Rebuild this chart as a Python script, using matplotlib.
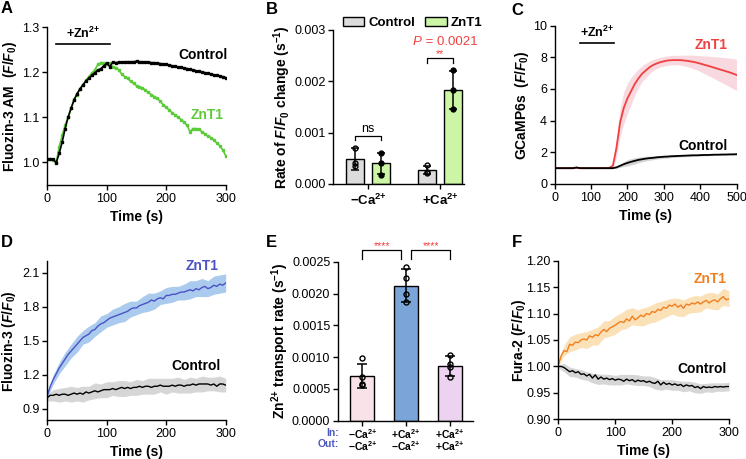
import numpy as np
import matplotlib
matplotlib.use('Agg')
import matplotlib.pyplot as plt
from matplotlib.patches import Patch

plt.rcParams['font.family'] = ['Liberation Sans', 'DejaVu Sans']
plt.rcParams['mathtext.fontset'] = 'custom'
plt.rcParams['mathtext.rm'] = 'Liberation Sans:bold'
plt.rcParams['mathtext.it'] = 'Liberation Sans:bold:italic'
plt.rcParams['mathtext.bf'] = 'Liberation Sans:bold'
plt.rcParams['axes.linewidth'] = 1.0

# ---------------- Panel A data (5 s steps) ----------------
a_time = np.arange(0, 301, 5)
a_control = [1.007, 1.008, 1.007, 0.999, 1.020, 1.045, 1.075, 1.100, 1.120, 1.138, 1.152,
             1.163, 1.172, 1.180, 1.187, 1.193, 1.199, 1.204, 1.208, 1.214, 1.220, 1.212,
             1.222, 1.221, 1.222, 1.222, 1.223, 1.223, 1.223, 1.223, 1.224, 1.223, 1.223,
             1.222, 1.222, 1.221, 1.221, 1.220, 1.219, 1.218, 1.217, 1.216, 1.214, 1.213,
             1.211, 1.211, 1.209, 1.208, 1.206, 1.205, 1.203, 1.202, 1.200, 1.199, 1.197,
             1.196, 1.194, 1.193, 1.191, 1.190, 1.188]
a_znt1 = [1.007, 1.008, 1.006, 1.000, 1.035, 1.060, 1.082, 1.100, 1.120, 1.140, 1.150,
          1.163, 1.172, 1.182, 1.190, 1.198, 1.205, 1.217, 1.221, 1.221, 1.219, 1.220,
          1.212, 1.210, 1.205, 1.196, 1.190, 1.186, 1.180, 1.175, 1.170, 1.168, 1.165,
          1.160, 1.155, 1.150, 1.146, 1.142, 1.135, 1.128, 1.122, 1.116, 1.110, 1.105,
          1.100, 1.095, 1.089, 1.082, 1.068, 1.075, 1.075, 1.073, 1.068, 1.063, 1.058,
          1.055, 1.050, 1.043, 1.037, 1.028, 1.015]
a_zn_window = [15, 105]

# ---------------- Panel B data ----------------
b_groups = ['\u2212Ca$^{2{+}}$', '+Ca$^{2{+}}$']
b_ctrl_mean = [0.00049, 0.00028]
b_ctrl_sd = [0.00021, 0.00008]
b_znt1_mean = [0.00040, 0.00184]
b_znt1_sd = [0.00021, 0.00037]
b_ctrl_pts = [[0.00071, 0.00040, 0.00035], [0.00037, 0.00024, 0.00022]]
b_znt1_pts = [[0.00061, 0.00040, 0.00018], [0.00222, 0.00184, 0.00147]]
b_pvalue = 'P = 0.0021'

# ---------------- Panel C data (10 s steps) ----------------
c_time = np.arange(0, 501, 10)
c_znt1 = [1.0, 1.0, 1.0, 1.0, 1.0, 1.0, 1.03, 1.0, 1.0, 1.0, 1.0, 1.0, 1.0, 1.0, 1.0, 1.02,
          1.15, 2.3, 3.9, 4.8, 5.4, 5.85, 6.3, 6.65, 6.95, 7.15, 7.35, 7.5, 7.6, 7.68, 7.74,
          7.79, 7.81, 7.82, 7.82, 7.81, 7.78, 7.75, 7.71, 7.66, 7.60, 7.53, 7.47, 7.40, 7.33,
          7.26, 7.19, 7.12, 7.05, 6.97, 6.88]
c_znt1_sd = [0.05] * 15 + [0.08, 0.2, 0.6, 0.9, 1.0, 0.95, 0.85, 0.7, 0.6, 0.5, 0.45, 0.4,
                            0.35, 0.32, 0.3, 0.3, 0.3, 0.3, 0.3, 0.3, 0.32, 0.35, 0.38,
                            0.42, 0.45, 0.5, 0.55, 0.6, 0.65, 0.7, 0.75, 0.8, 0.85, 0.9, 0.95, 0.98]
c_control = [1.0, 1.0, 1.0, 1.0, 1.0, 1.0, 1.04, 1.0, 1.0, 1.0, 1.0, 1.0, 1.0, 1.0, 1.0, 1.0,
             1.0, 1.05, 1.15, 1.25, 1.33, 1.40, 1.46, 1.52, 1.56, 1.60, 1.63, 1.65, 1.68, 1.70,
             1.72, 1.73, 1.75, 1.76, 1.77, 1.78, 1.79, 1.80, 1.81, 1.81, 1.82, 1.83, 1.83,
             1.84, 1.85, 1.85, 1.86, 1.86, 1.87, 1.87, 1.88]
c_control_sd = [0.03] * 17 + [0.06, 0.1, 0.15, 0.2, 0.2, 0.2, 0.18, 0.16, 0.15, 0.13, 0.12,
                               0.11, 0.1, 0.1, 0.09, 0.09, 0.08, 0.08, 0.07, 0.07, 0.07, 0.06,
                               0.06, 0.06, 0.06, 0.05, 0.05, 0.05, 0.05, 0.05, 0.05, 0.05,
                               0.05, 0.05]
c_zn_window = [70, 164]

# ---------------- Panel D data (5 s steps) ----------------
d_time = np.arange(0, 301, 5)
d_znt1 = [1.02, 1.10, 1.16, 1.21, 1.26, 1.30, 1.34, 1.38, 1.41, 1.44, 1.47, 1.50, 1.53,
          1.545, 1.56, 1.59, 1.60, 1.63, 1.65, 1.66, 1.68, 1.70, 1.71, 1.72, 1.73, 1.74,
          1.75, 1.76, 1.78, 1.79, 1.79, 1.81, 1.82, 1.83, 1.84, 1.86, 1.85, 1.87, 1.88,
          1.87, 1.90, 1.90, 1.91, 1.91, 1.92, 1.93, 1.93, 1.94, 1.95, 1.94, 1.96, 1.95,
          1.97, 1.98, 1.96, 1.97, 1.99, 1.98, 2.00, 1.99, 2.01]
d_control = [1.00, 1.02, 1.02, 1.03, 1.02, 1.03, 1.03, 1.02, 1.03, 1.04, 1.03, 1.04, 1.03,
             1.05, 1.04, 1.05, 1.06, 1.05, 1.06, 1.07, 1.07, 1.07, 1.08, 1.07, 1.08, 1.09,
             1.08, 1.09, 1.08, 1.09, 1.09, 1.10, 1.09, 1.10, 1.10, 1.09, 1.10, 1.10, 1.11,
             1.10, 1.10, 1.10, 1.11, 1.10, 1.11, 1.11, 1.10, 1.11, 1.11, 1.12, 1.11, 1.12,
             1.12, 1.12, 1.12, 1.11, 1.12, 1.10, 1.12, 1.12, 1.11]
d_band_time = np.arange(0, 301, 10)
d_znt1_sd = [0.02, 0.04, 0.05, 0.06, 0.06, 0.07, 0.06, 0.07, 0.06, 0.07, 0.06, 0.07, 0.07,
             0.08, 0.07, 0.06, 0.07, 0.08, 0.07, 0.06, 0.07, 0.07, 0.06, 0.07, 0.08, 0.07,
             0.08, 0.07, 0.08, 0.08, 0.08]
d_control_sd = [0.03, 0.05, 0.06, 0.06, 0.07, 0.06, 0.07, 0.06, 0.07, 0.06, 0.07, 0.06,
                0.07, 0.07, 0.06, 0.07, 0.06, 0.07, 0.07, 0.06, 0.07, 0.06, 0.07, 0.06,
                0.07, 0.06, 0.07, 0.06, 0.06, 0.07, 0.06]

# ---------------- Panel E data ----------------
e_in = ['\u2212Ca$^{2{+}}$', '+Ca$^{2{+}}$', '+Ca$^{2{+}}$']
e_out = ['\u2212Ca$^{2{+}}$', '\u2212Ca$^{2{+}}$', '+Ca$^{2{+}}$']
e_mean = [0.00070, 0.00212, 0.00086]
e_sd = [0.00019, 0.00026, 0.00015]
e_pts = [[0.00098, 0.00069, 0.00058, 0.00056],
         [0.00241, 0.00225, 0.00200, 0.00187],
         [0.00103, 0.00089, 0.00085, 0.00068]]
e_colors = ['#f9e3e8', '#7ba4d8', '#ecd4f1']

# ---------------- Panel F data (5 s steps) ----------------
f_time = np.arange(0, 301, 5)
f_znt1 = [1.003, 1.020, 1.030, 1.028, 1.042, 1.040, 1.046, 1.045, 1.050, 1.052, 1.050,
          1.058, 1.055, 1.060, 1.058, 1.065, 1.070, 1.066, 1.072, 1.075, 1.078, 1.082,
          1.085, 1.083, 1.090, 1.086, 1.095, 1.088, 1.092, 1.097, 1.094, 1.100, 1.098,
          1.104, 1.102, 1.108, 1.106, 1.112, 1.110, 1.116, 1.114, 1.118, 1.112, 1.116,
          1.110, 1.118, 1.116, 1.120, 1.118, 1.122, 1.118, 1.122, 1.125, 1.120, 1.124,
          1.126, 1.122, 1.128, 1.132, 1.126, 1.128]
f_control = [1.000, 1.000, 0.998, 0.994, 0.990, 0.992, 0.988, 0.990, 0.985, 0.986, 0.982,
             0.985, 0.978, 0.984, 0.976, 0.980, 0.976, 0.978, 0.975, 0.977, 0.974, 0.976,
             0.975, 0.972, 0.976, 0.973, 0.975, 0.971, 0.974, 0.972, 0.973, 0.970, 0.972,
             0.969, 0.968, 0.972, 0.965, 0.970, 0.966, 0.968, 0.965, 0.967, 0.964, 0.966,
             0.962, 0.965, 0.963, 0.964, 0.960, 0.962, 0.958, 0.962, 0.960, 0.961, 0.960,
             0.962, 0.961, 0.962, 0.961, 0.962, 0.962]
f_band_time = np.arange(0, 301, 10)
f_znt1_sd = [0.003, 0.010, 0.014, 0.015, 0.014, 0.016, 0.015, 0.017, 0.016, 0.015, 0.017,
             0.016, 0.018, 0.016, 0.015, 0.017, 0.016, 0.018, 0.017, 0.016, 0.015, 0.017,
             0.016, 0.015, 0.016, 0.015, 0.014, 0.016, 0.015, 0.016, 0.015]
f_control_sd = [0.003, 0.008, 0.009, 0.008, 0.009, 0.008, 0.009, 0.010, 0.009, 0.010, 0.009,
                0.010, 0.009, 0.010, 0.010, 0.009, 0.010, 0.011, 0.010, 0.009, 0.010, 0.009,
                0.010, 0.009, 0.010, 0.009, 0.008, 0.009, 0.008, 0.008, 0.008]

# ---------------- colours ----------------
GREEN = '#5ccb3a'
RED = '#f04040'
BLUE = '#4b52c6'
ORANGE = '#f07f20'
INBLUE = '#4a58c2'

W, H = 746, 459
fig = plt.figure(figsize=(W / 100, H / 100), dpi=100)


def rect(l, t, r, b):
    return [l / W, 1 - b / H, (r - l) / W, (b - t) / H]


TICK_FS = 9
LAB_FS = 10


def style(ax):
    ax.spines['top'].set_visible(False)
    ax.spines['right'].set_visible(False)
    ax.tick_params(direction='out', length=3.5, width=1.0, labelsize=TICK_FS, pad=2)


def ylab(ax, text, x):
    ax.set_ylabel(text, fontsize=LAB_FS, fontweight='bold', ha='center', va='center')
    ax.yaxis.set_label_coords(x, 0.5)


def xlab(ax, text, y):
    ax.set_xlabel(text, fontsize=LAB_FS, fontweight='bold', ha='center', va='center')
    ax.xaxis.set_label_coords(0.5, y)


def letter(x, y, s):
    fig.text(x / W, 1 - y / H, s, fontsize=12, fontweight='bold', ha='left', va='top')


# ================= A =================
axA = fig.add_axes(rect(47.3, 27, 225.7, 185))
style(axA)
axA.plot(a_time, a_control, color='black', lw=1.2, marker='s', ms=1.8, zorder=3)
axA.plot(a_time, a_znt1, color=GREEN, lw=1.2, marker='s', ms=1.8, zorder=2)
axA.set_xlim(0, 300)
axA.set_ylim(0.95, 1.3)
axA.set_xticks([0, 100, 200, 300])
axA.set_yticks([1.0, 1.1, 1.2, 1.3], labels=['1.0', '1.1', '1.2', '1.3'])
axA.plot(a_zn_window, [1.262, 1.262], color='black', lw=1.2, clip_on=False)
axA.text(np.mean(a_zn_window), 1.268, '+Zn$^{2{+}}$', fontsize=9, fontweight='bold',
         ha='center', va='bottom')
axA.text(262, 1.238, 'Control', fontsize=10, fontweight='bold', ha='center', va='center')
axA.text(268, 1.104, 'ZnT1', fontsize=10, fontweight='bold', ha='center', va='center',
         color=GREEN)
ylab(axA, 'Fluozin-3 AM  ($F$/$F_0$)', -0.21)
xlab(axA, 'Time (s)', -0.2)

# ================= B =================
axB = fig.add_axes(rect(333.3, 30, 464, 184))
style(axB)
gx = np.arange(len(b_groups))
off, bw = 0.183, 0.25
axB.bar(gx - off, b_ctrl_mean, width=bw, color='#dcdcdc', edgecolor='black', lw=1.0, zorder=2)
axB.bar(gx + off, b_znt1_mean, width=bw, color='#cdf5a6', edgecolor='black', lw=1.0, zorder=2)
axB.errorbar(gx - off, b_ctrl_mean, yerr=b_ctrl_sd, fmt='none', ecolor='black', elinewidth=1.1,
             capsize=3, capthick=1.1, zorder=3)
axB.errorbar(gx + off, b_znt1_mean, yerr=b_znt1_sd, fmt='none', ecolor='black', elinewidth=1.1,
             capsize=3, capthick=1.1, zorder=3)
for i in range(len(b_groups)):
    axB.plot([gx[i] - off] * len(b_ctrl_pts[i]), b_ctrl_pts[i], 'o', ms=3.5, mfc='none',
             mec='black', mew=1.0, zorder=4)
    axB.plot([gx[i] + off] * len(b_znt1_pts[i]), b_znt1_pts[i], 'o', ms=3.5, mfc='black',
             mec='black', mew=1.0, zorder=4)
axB.set_xlim(-0.482, 1.333)
axB.set_ylim(0, 0.003)
axB.set_yticks([0, 0.001, 0.002, 0.003], labels=['0.000', '0.001', '0.002', '0.003'])
axB.set_xticks(gx, labels=b_groups, fontweight='bold', fontsize=9.5)
axB.tick_params(axis='x', pad=3)
# significance
axB.plot([-off, -off, off, off], [0.00086, 0.000935, 0.000935, 0.00086], color='black', lw=0.9)
axB.text(0, 0.00096, 'ns', fontsize=9, ha='center', va='bottom')
axB.plot([1 - off, 1 - off, 1 + off, 1 + off], [0.00235, 0.00245, 0.00245, 0.00235],
         color='black', lw=0.9)
axB.text(1, 0.00244, '**', fontsize=7.5, ha='center', va='bottom', color=RED)
tP = axB.text(0.62, 0.00277, 'P', fontsize=9.5, style='italic', ha='left', va='center', color=RED)
axB.annotate(' = 0.0021', xy=(1, 0.5), xycoords=tP, fontsize=9.5, ha='left', va='center',
             color=RED)
ylab(axB, 'Rate of $F$/$F_0$ change (s$^{-1}$)', -0.39)
handles = [Patch(facecolor='#dcdcdc', edgecolor='black', lw=1.0, label='Control'),
           Patch(facecolor='#cdf5a6', edgecolor='black', lw=1.0, label='ZnT1')]
leg = axB.legend(handles=handles, ncol=2, frameon=False, loc='center left',
                 bbox_to_anchor=(342.7 / W, 1 - 23.3 / H), bbox_transform=fig.transFigure,
                 borderpad=0, borderaxespad=0, handlelength=1.65, handleheight=0.7,
                 handletextpad=0.3, columnspacing=0.75,
                 prop={'weight': 'bold', 'size': 9.5})

# ================= C =================
axC = fig.add_axes(rect(554.7, 25.5, 736.5, 184))
style(axC)
cz = np.array(c_znt1)
cc = np.array(c_control)
axC.fill_between(c_time, cc - np.array(c_control_sd), cc + np.array(c_control_sd),
                 color='#d4d4d4', lw=0, zorder=1)
axC.fill_between(c_time, cz - np.array(c_znt1_sd), cz + np.array(c_znt1_sd),
                 color='#f7d9df', lw=0, zorder=1)
axC.plot(c_time, c_control, color='black', lw=1.3, zorder=3)
axC.plot(c_time, c_znt1, color=RED, lw=1.3, zorder=2)
axC.set_xlim(0, 500)
axC.set_ylim(0, 10)
axC.set_xticks([0, 100, 200, 300, 400, 500])
axC.set_yticks([0, 2, 4, 6, 8, 10])
axC.plot(c_zn_window, [8.9, 8.9], color='black', lw=1.2, clip_on=False)
axC.text(np.mean(c_zn_window), 9.1, '+Zn$^{2{+}}$', fontsize=9, fontweight='bold',
         ha='center', va='bottom')
axC.text(430, 8.77, 'ZnT1', fontsize=10, fontweight='bold', ha='center', va='center', color=RED)
axC.text(409, 2.42, 'Control', fontsize=10, fontweight='bold', ha='center', va='center')
ylab(axC, 'GCaMP6s  ($F$/$F_0$)', -0.178)
xlab(axC, 'Time (s)', -0.2)

# ================= D =================
axD = fig.add_axes(rect(47.3, 261.4, 225.7, 420.3))
style(axD)
dzs = np.array(d_znt1)[::2]
dcs = np.array(d_control)[::2]
axD.fill_between(d_band_time, dcs - np.array(d_control_sd), dcs + np.array(d_control_sd),
                 color='#d6d6d6', lw=0, zorder=1)
axD.fill_between(d_band_time, dzs - np.array(d_znt1_sd), dzs + np.array(d_znt1_sd),
                 color='#aacbee', lw=0, zorder=1)
axD.plot(d_time, d_control, color='black', lw=1.0, zorder=3)
axD.plot(d_time, d_znt1, color=BLUE, lw=1.0, zorder=2)
axD.set_xlim(0, 300)
axD.set_ylim(0.8, 2.2)
axD.set_xticks([0, 100, 200, 300])
axD.set_yticks([0.9, 1.2, 1.5, 1.8, 2.1], labels=['0.9', '1.2', '1.5', '1.8', '2.1'])
axD.text(260, 2.16, 'ZnT1', fontsize=10, fontweight='bold', ha='center', va='center', color=BLUE)
axD.text(250, 1.28, 'Control', fontsize=10, fontweight='bold', ha='center', va='center')
ylab(axD, 'Fluozin-3 ($F$/$F_0$)', -0.212)
xlab(axD, 'Time (s)', -0.2)

# ================= E =================
axE = fig.add_axes(rect(338, 261.7, 473, 420.7))
style(axE)
ex = np.arange(len(e_mean))
axE.bar(ex, e_mean, width=0.55, color=e_colors, edgecolor='black', lw=1.0, zorder=2)
axE.errorbar(ex, e_mean, yerr=e_sd, fmt='none', ecolor='black', elinewidth=1.1, capsize=3.5,
             capthick=1.1, zorder=3)
for i in range(len(e_mean)):
    axE.plot([ex[i]] * len(e_pts[i]), e_pts[i], 'o', ms=3.6, mfc='none', mec='black',
             mew=1.0, zorder=4)
axE.set_xlim(-0.555, 2.527)
axE.set_ylim(0, 0.0025)
axE.set_yticks([0, 0.0005, 0.001, 0.0015, 0.002, 0.0025],
               labels=['0.0000', '0.0005', '0.0010', '0.0015', '0.0020', '0.0025'])
axE.set_xticks(ex, labels=[''] * len(ex))
trE = axE.get_xaxis_transform()
for i in range(len(ex)):
    axE.text(ex[i], -0.04, e_in[i] + '\n' + e_out[i], transform=trE, fontsize=7.5,
             fontweight='bold', ha='center', va='top', linespacing=0.85)
axE.text(-0.53, -0.045, 'In:\nOut:', transform=trE, fontsize=7.5, fontweight='bold',
         ha='right', va='top', color=INBLUE, linespacing=1.2)
axE.plot([0, 0, 0.89, 0.89], [0.00255, 0.00268, 0.00268, 0.00255], color='black', lw=0.9,
         clip_on=False)
axE.plot([1.12, 1.12, 2, 2], [0.00255, 0.00268, 0.00268, 0.00255], color='black', lw=0.9,
         clip_on=False)
axE.text(0.445, 0.00266, '****', fontsize=7.5, ha='center', va='bottom', color=RED)
axE.text(1.56, 0.00266, '****', fontsize=7.5, ha='center', va='bottom', color=RED)
ylab(axE, 'Zn$^{2{+}}$ transport rate (s$^{-1}$)', -0.43)

# ================= F =================
axF = fig.add_axes(rect(558.3, 260.7, 729, 419.3))
style(axF)
fzs = np.array(f_znt1)[::2]
fcs = np.array(f_control)[::2]
axF.fill_between(f_band_time, fcs - np.array(f_control_sd), fcs + np.array(f_control_sd),
                 color='#d6d6d6', lw=0, zorder=1)
axF.fill_between(f_band_time, fzs - np.array(f_znt1_sd), fzs + np.array(f_znt1_sd),
                 color='#fbe1b8', lw=0, zorder=1)
axF.plot(f_time, f_control, color='black', lw=1.0, zorder=3)
axF.plot(f_time, f_znt1, color=ORANGE, lw=1.0, zorder=2)
axF.set_xlim(0, 300)
axF.set_ylim(0.9, 1.2)
axF.set_xticks([0, 100, 200, 300])
fy = [0.90, 0.95, 1.00, 1.05, 1.10, 1.15, 1.20]
axF.set_yticks(fy, labels=['%.2f' % v for v in fy])
axF.text(267, 1.165, 'ZnT1', fontsize=10, fontweight='bold', ha='center', va='center',
         color=ORANGE)
axF.text(252, 0.996, 'Control', fontsize=10, fontweight='bold', ha='center', va='center')
ylab(axF, 'Fura-2 ($F$/$F_0$)', -0.23)
xlab(axF, 'Time (s)', -0.2)

letter(1, 1, 'A')
letter(266, 2, 'B')
letter(511, 3, 'C')
letter(1, 235, 'D')
letter(266, 235, 'E')
letter(512, 235, 'F')

fig.savefig('out.png', dpi=100)
